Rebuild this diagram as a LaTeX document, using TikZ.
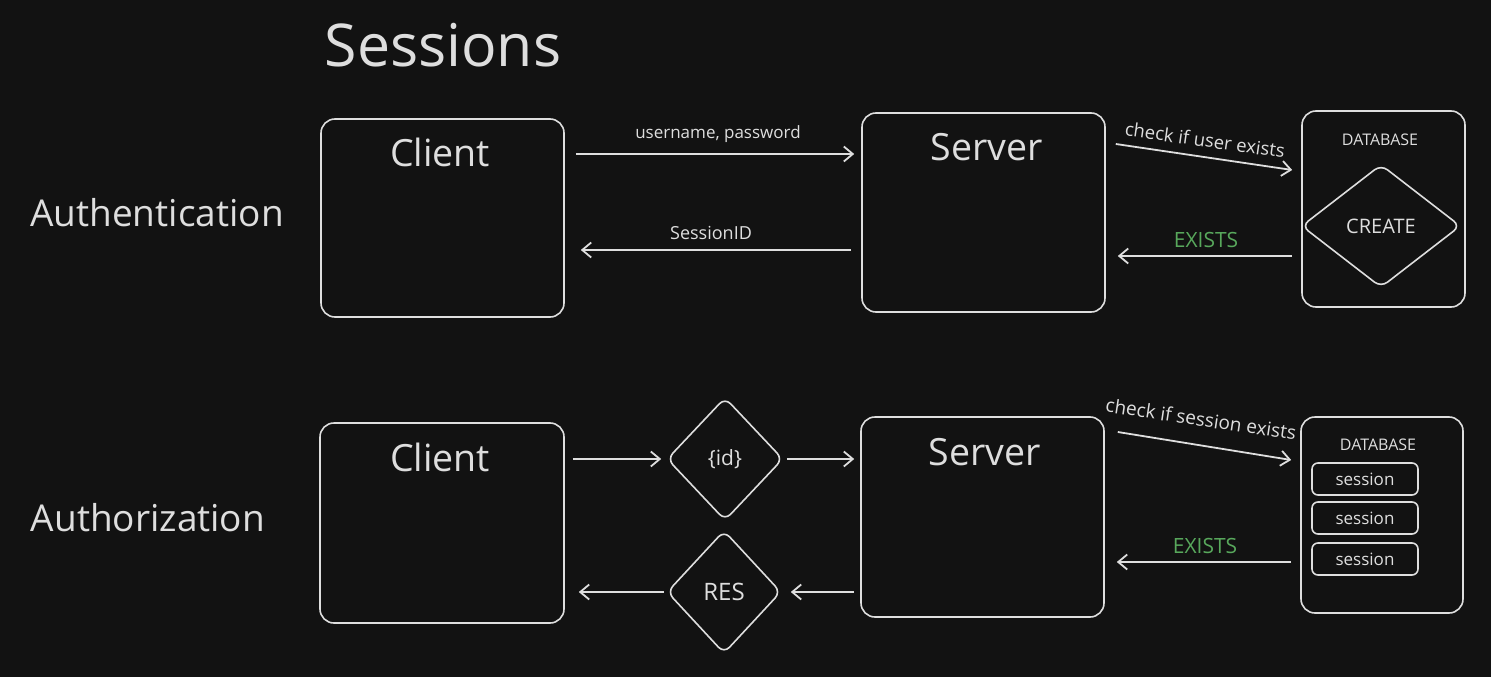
\documentclass[tikz,border=0pt]{standalone}
\usepackage{fontspec}
\setmainfont{Open Sans}
\usetikzlibrary{arrows.meta,shapes.geometric,calc}
\definecolor{bg}{HTML}{121212}
\definecolor{fg}{HTML}{DEDEDE}
\definecolor{grn}{HTML}{58A85C}
\tikzset{
  box/.style={draw=fg, line width=1.6pt, rounded corners=14pt, inner sep=0pt},
  dia/.style={draw=fg, line width=1.6pt, diamond, rounded corners=8pt, inner sep=0pt, text=fg},
  arr/.style={draw=fg, line width=1.8pt, -{Straight Barb[length=9pt,width=15pt,line width=1.8pt]}},
  lbl/.style={text=fg, inner sep=0pt},
}
\newcommand{\fz}[1]{\fontsize{#1}{#1}\selectfont}
\begin{document}
\begin{tikzpicture}[x=1pt,y=-1pt]
\path[fill=bg,use as bounding box] (0,0) rectangle (1491,677);

% title and row labels
\node[lbl,font=\fz{59}] (title) at (443,45) {Sessions};
\node[lbl,font=\fz{37}] (authn) at (157,213) {Authentication};
\node[lbl,font=\fz{37}] (authz) at (148,518) {Authorization};

% row 1
\node[box, minimum width=243pt, minimum height=198pt] (c1) at (442.5,218) {};
\node[lbl,font=\fz{37.5}] (c1t) at (440,152) {Client};
\node[box, minimum width=243pt, minimum height=199pt] (s1) at (983.5,212.5) {};
\node[lbl,font=\fz{37.5}] (s1t) at (987,147) {Server};
\node[box, minimum width=163pt, minimum height=196pt] (d1) at (1383.5,209) {};
\node[lbl,font=\fz{16}] (d1t) at (1380,140) {DATABASE};
\node[dia, minimum width=159pt, minimum height=123pt, font=\fz{20}] (create) at (1381,226) {CREATE};

\draw[arr] ([shift={(11pt,64pt)}]c1.east) -- ([shift={(-7pt,58.5pt)}]s1.west);
\node[lbl,font=\fz{17}] (up) at (718,134) {username, password};
\draw[arr] ([shift={(-10pt,-37.5pt)}]s1.west) -- ([shift={(16pt,-32pt)}]c1.east);
\node[lbl,font=\fz{18}] (sid) at (711,233) {SessionID};
\draw[arr] ([shift={(10pt,68.5pt)}]s1.east) -- ([shift={(-9pt,39pt)}]d1.west);
\node[lbl,font=\fz{18.5},rotate=-8] (chk1) at (1205,140) {check if user exists};
\draw[arr] ([shift={(-9pt,-47pt)}]d1.west) -- ([shift={(12pt,-43.5pt)}]s1.east);
\node[lbl,font=\fz{21},text=grn] (ex1) at (1206,240) {EXISTS};

% row 2
\node[box, minimum width=244pt, minimum height=200pt] (c2) at (442,523) {};
\node[lbl,font=\fz{37.5}] (c2t) at (440,457) {Client};
\node[box, minimum width=243pt, minimum height=200pt] (s2) at (982.5,517) {};
\node[lbl,font=\fz{37.5}] (s2t) at (985,452) {Server};
\node[box, minimum width=162pt, minimum height=196pt] (d2) at (1382,515) {};
\node[lbl,font=\fz{16}] (d2t) at (1378,445) {DATABASE};
\node[box, rounded corners=6pt, minimum width=106pt, minimum height=32pt, font=\fz{17}, text=fg] (se1) at (1365,479) {session};
\node[box, rounded corners=6pt, minimum width=106pt, minimum height=32pt, font=\fz{17}, text=fg] (se2) at (1365,518) {session};
\node[box, rounded corners=6pt, minimum width=106pt, minimum height=32pt, font=\fz{17}, text=fg] (se3) at (1365,559) {session};
\node[dia, minimum width=116pt, minimum height=123pt, font=\fz{21}] (id) at (725,459) {\{id\}};
\node[dia, minimum width=114pt, minimum height=123pt, font=\fz{24}] (res) at (724,592) {RES};

\draw[arr] ([shift={(8pt,64pt)}]c2.east) -- ([xshift=-5pt]id.west);
\draw[arr] ([xshift=3pt]id.east) -- ([shift={(-6pt,58pt)}]s2.west);
\draw[arr] ([shift={(-6pt,-75pt)}]s2.west) -- ([xshift=9pt]res.east);
\draw[arr] ([xshift=-2pt]res.west) -- ([shift={(14pt,-69pt)}]c2.east);
\draw[arr] ([shift={(13pt,85pt)}]s2.east) -- ([shift={(-9pt,55pt)}]d2.west);
\node[lbl,font=\fz{19},rotate=-8.5] (chk2) at (1201,419) {check if session exists};
\draw[arr] ([shift={(-9pt,-47pt)}]d2.west) -- ([shift={(12pt,-45pt)}]s2.east);
\node[lbl,font=\fz{21},text=grn] (ex2) at (1205,546) {EXISTS};
\end{tikzpicture}
\end{document}
